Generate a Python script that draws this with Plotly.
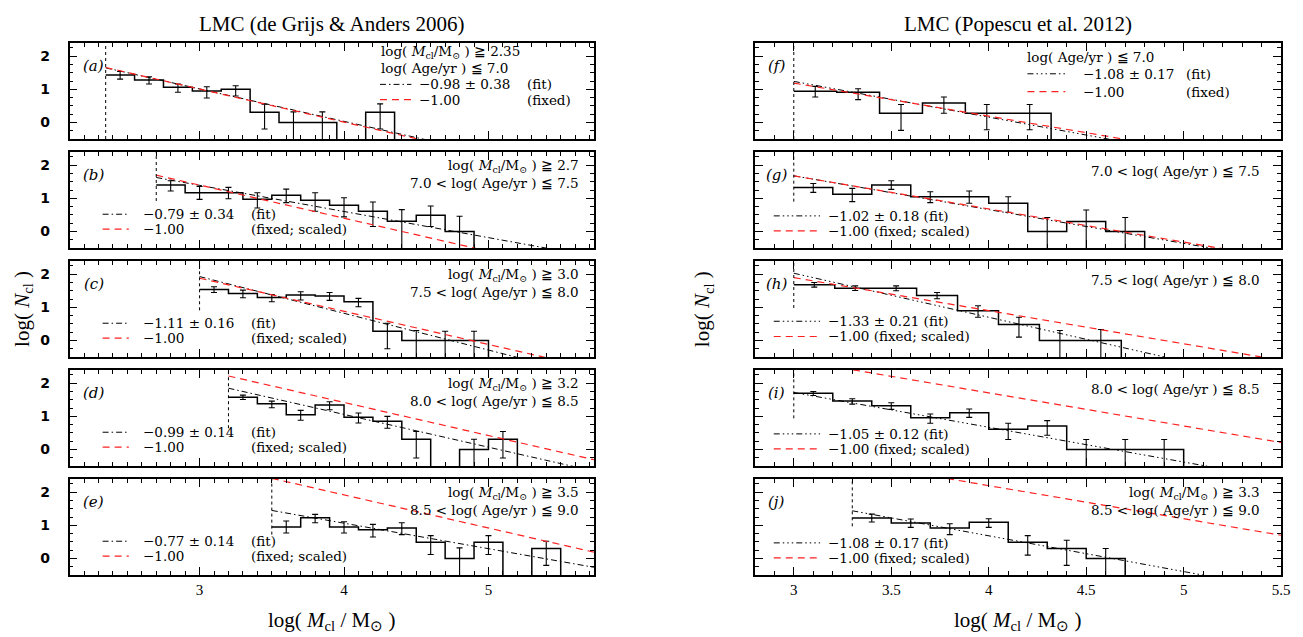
import plotly.graph_objects as go

W, H = 1303, 637

# ---------------- data ----------------
panel_labels = ['(a)', '(b)', '(c)', '(d)', '(e)', '(f)', '(g)', '(h)', '(i)', '(j)']
mass_min = [2.35, 2.7, 3.0, 3.2, 3.5, 3.0, 3.0, 3.0, 3.0, 3.3]
bin_width = [0.2, 0.2, 0.2, 0.2, 0.2, 0.22, 0.2, 0.21, 0.2, 0.2]

# log N per bin (None = empty bin), upper and lower error-bar ends (None = off chart)
logN_a = [1.43, 1.28, 1.06, 0.95, 1.00, 0.31, 0.0, 0.0, None, 0.31]
up_a = [1.54, 1.38, 1.16, 1.08, 1.11, 0.55, 0.32, 0.32, None, 0.56]
lo_a = [1.31, 1.16, 0.91, 0.74, 0.80, -0.20, None, None, None, -0.20]

logN_b = [1.40, 1.17, 1.17, 0.97, 1.09, 0.94, 0.79, 0.61, 0.31, 0.49, 0.0]
up_b = [1.53, 1.36, 1.33, 1.17, 1.28, 1.17, 1.02, 0.89, 0.66, 0.77, 0.46]
lo_b = [1.22, 0.97, 0.99, 0.71, 0.87, 0.61, 0.44, 0.15, None, 0.15, None]

logN_c = [1.54, 1.42, 1.30, 1.37, 1.34, 1.17, 0.28, 0.0, 0.0, 0.0]
up_c = [1.62, 1.52, 1.39, 1.47, 1.45, 1.27, 0.52, 0.30, 0.28, 0.28]
lo_c = [1.45, 1.29, 1.17, 1.22, 1.21, 1.02, -0.25, None, None, None]

logN_d = [1.58, 1.38, 1.05, 1.34, 0.97, 0.85, 0.31, None, 0.0, 0.31]
up_d = [1.64, 1.46, 1.18, 1.44, 1.10, 1.00, 0.54, None, 0.31, 0.54]
lo_d = [1.51, 1.26, 0.88, 1.20, 0.80, 0.64, -0.26, None, None, -0.26]

logN_e = [0.95, 1.23, 0.95, 0.87, 0.92, 0.49, 0.0, 0.49, None, 0.30]
up_e = [1.13, 1.33, 1.11, 1.03, 1.08, 0.69, 0.32, 0.69, None, 0.52]
lo_e = [0.77, 1.08, 0.77, 0.65, 0.72, 0.12, None, 0.12, None, -0.21]

logN_f = [0.94, 0.91, 0.28, 0.59, 0.28, 0.28]
up_f = [1.09, 1.02, 0.54, 0.77, 0.54, 0.54]
lo_f = [0.77, 0.69, -0.24, 0.28, -0.22, -0.22]

logN_g = [1.33, 1.12, 1.40, 1.05, 1.05, 0.85, 0.0, 0.30, 0.0]
up_g = [1.45, 1.30, 1.53, 1.20, 1.22, 1.05, 0.42, 0.65, 0.42]
lo_g = [1.18, 0.90, 1.27, 0.87, 0.85, 0.58, None, None, None]

logN_h = [1.68, 1.58, 1.58, 1.36, 0.90, 0.48, 0.0, 0.0]
up_h = [1.75, 1.65, 1.65, 1.45, 1.05, 0.70, 0.30, 0.33]
lo_h = [1.61, 1.51, 1.50, 1.26, 0.70, 0.10, None, None]

logN_i = [1.70, 1.46, 1.32, 0.96, 1.11, 0.61, 0.71, 0.0, 0.0, 0.0]
up_i = [1.75, 1.53, 1.41, 1.07, 1.22, 0.79, 0.87, 0.30, 0.30, 0.30]
lo_i = [1.63, 1.37, 1.21, 0.79, 0.97, 0.30, 0.43, None, None, None]

logN_j = [1.22, 1.07, 0.92, 1.09, 0.49, 0.30, 0.0]
up_j = [1.34, 1.19, 1.05, 1.20, 0.69, 0.55, 0.30]
lo_j = [1.10, 0.94, 0.72, 0.94, 0.10, -0.21, None]

# fitted and fixed power-law lines: value of log N at the lower mass limit, slope
fit_slope = [-0.98, -0.79, -1.11, -0.99, -0.77, -1.08, -1.02, -1.33, -1.05, -1.08]
fit_err = [0.38, 0.34, 0.16, 0.14, 0.14, 0.17, 0.18, 0.21, 0.12, 0.17]
fit_start = [1.65, 1.63, 1.93, 1.85, 1.45, 1.24, 1.68, 2.03, 1.72, 1.44]
fixed_slope = [-1.00] * 10
fixed_start = [1.66, 1.70, 1.88, 2.22, 2.42, 1.19, 1.68, 1.90, 2.71, 2.90]

# lower end of the dotted mass-limit marker
dotted_low = [-0.5, 0.92, 0.91, 0.64, 0.72, -0.5, 0.90, 0.98, 0.94, 0.97]

MS = 'log( <i>M</i><sub>cl</sub>/M<sub>⊙</sub> ) ≧ '
cond_lines = [
    [MS + '2.35', 'log( Age/yr ) ≦ 7.0'],
    [MS + '2.7', '7.0 < log( Age/yr ) ≦ 7.5'],
    [MS + '3.0', '7.5 < log( Age/yr ) ≦ 8.0'],
    [MS + '3.2', '8.0 < log( Age/yr ) ≦ 8.5'],
    [MS + '3.5', '8.5 < log( Age/yr ) ≦ 9.0'],
    ['log( Age/yr ) ≦ 7.0'],
    ['7.0 < log( Age/yr ) ≦ 7.5'],
    ['7.5 < log( Age/yr ) ≦ 8.0'],
    ['8.0 < log( Age/yr ) ≦ 8.5'],
    [MS + '3.3', '8.5 < log( Age/yr ) ≦ 9.0'],
]
column_titles = ['LMC (de Grijs &amp; Anders 2006)', 'LMC (Popescu et al. 2012)']
x_ranges = [[2.1, 5.73], [2.8, 5.5]]
x_major = [1.0, 0.5]
y_range = [-0.5, 2.4]

all_logN = [logN_a, logN_b, logN_c, logN_d, logN_e, logN_f, logN_g, logN_h, logN_i, logN_j]
all_up = [up_a, up_b, up_c, up_d, up_e, up_f, up_g, up_h, up_i, up_j]
all_lo = [lo_a, lo_b, lo_c, lo_d, lo_e, lo_f, lo_g, lo_h, lo_i, lo_j]

# ---------------- layout geometry (pixels) ----------------
col_px = [(62.0, 590.0), (752.0, 1282.0)]
top0, pitch, ph = 35, 109, 96

TXT = dict(family='DejaVu Serif', size=13.5, color='black')
RED = '#ff2020'
FIT_DASH = ['6px,3px,1.5px,3px', '6px,3px,1.5px,3px,1.5px,3px,1.5px,3px']
RED_DASH = '7px,5px'

fig = go.Figure()
layout = dict(width=W, height=H, margin=dict(l=0, r=0, t=0, b=0), autosize=False,
              paper_bgcolor='white', plot_bgcolor='white', showlegend=False)
annotations = []
shapes = []


def ann(text, xref, yref, x, y, xanchor='left', font=TXT, **kw):
    d = dict(text=text, xref=xref, yref=yref, x=x, y=y, xanchor=xanchor, yanchor='middle',
             showarrow=False, font=font, borderpad=0)
    d.update(kw)
    annotations.append(d)


for k in range(10):
    col = 0 if k < 5 else 1
    row = k % 5
    n = k + 1
    xa = 'xaxis' if n == 1 else f'xaxis{n}'
    ya = 'yaxis' if n == 1 else f'yaxis{n}'
    xr = 'x' if n == 1 else f'x{n}'
    yr = 'y' if n == 1 else f'y{n}'
    xd = f'{xr} domain'
    top = top0 + row * pitch
    bot = top + ph
    layout[xa] = dict(
        domain=[col_px[col][0] / W, col_px[col][1] / W], range=x_ranges[col], anchor=yr,
        showline=True, mirror='allticks', linecolor='black', linewidth=1.7,
        ticks='inside', ticklen=8, tickwidth=1, tickcolor='black',
        tick0=0, dtick=x_major[col], showgrid=False, zeroline=False,
        minor=dict(ticks='inside', ticklen=4, tickwidth=1, tickcolor='black', dtick=0.1, tick0=0,
                   showgrid=False),
        showticklabels=(row == 4),
        tickfont=dict(family='Liberation Serif', size=15, color='black'),
        ticklabelstandoff=0)
    layout[ya] = dict(
        domain=[1 - bot / H, 1 - top / H], range=y_range, anchor=xr,
        showline=True, mirror='allticks', linecolor='black', linewidth=1.7,
        ticks='inside', ticklen=8, tickwidth=1, tickcolor='black',
        tick0=0, dtick=1, showgrid=False, zeroline=False,
        minor=dict(ticks='inside', ticklen=4, tickwidth=1, tickcolor='black', dtick=0.25, tick0=0,
                   showgrid=False),
        showticklabels=(col == 0),
        tickfont=dict(family='DejaVu Sans', size=14, color='black', weight='bold'),
        ticklabelstandoff=15)

    vals = all_logN[k]
    nb = len(vals)
    w = bin_width[k]
    x0 = mass_min[k]
    edges = [x0 + i * w for i in range(nb + 1)]
    below = y_range[0] - 2.0
    ystep = [v if v is not None else below for v in vals] + [below]

    # histogram
    fig.add_trace(go.Scatter(x=edges, y=ystep, mode='lines', line=dict(shape='hv', color='black', width=1.5),
                             xaxis=xr, yaxis=yr, hoverinfo='skip'))
    # error bars
    cx, cy, ep, em = [], [], [], []
    for i, v in enumerate(vals):
        if v is None:
            continue
        cx.append(edges[i] + w / 2)
        cy.append(v)
        ep.append(all_up[k][i] - v)
        lo = all_lo[k][i]
        em.append(v - (lo if lo is not None else below))
    fig.add_trace(go.Scatter(x=cx, y=cy, mode='markers', marker=dict(size=1, color='black'),
                             error_y=dict(type='data', symmetric=False, array=ep, arrayminus=em,
                                          color='black', thickness=1.1, width=3),
                             xaxis=xr, yaxis=yr, hoverinfo='skip'))
    # fit and fixed lines
    xe = x_ranges[col][1]
    fig.add_trace(go.Scatter(x=[x0, xe], y=[fit_start[k], fit_start[k] + fit_slope[k] * (xe - x0)],
                             mode='lines', line=dict(color='black', width=1, dash=FIT_DASH[col]),
                             xaxis=xr, yaxis=yr, hoverinfo='skip'))
    fig.add_trace(go.Scatter(x=[x0, xe], y=[fixed_start[k], fixed_start[k] + fixed_slope[k] * (xe - x0)],
                             mode='lines', line=dict(color=RED, width=1.2, dash=RED_DASH),
                             xaxis=xr, yaxis=yr, hoverinfo='skip'))
    # dotted lower mass limit
    shapes.append(dict(type='line', xref=xr, yref=yr, x0=x0, x1=x0, y0=dotted_low[k], y1=y_range[1],
                       line=dict(color='black', width=1, dash='dot')))

    # panel label
    ann('<i>' + panel_labels[k] + '</i>', xd, yr, 0.046 if col == 0 else 0.042, 1.72, xanchor='center',
        font=dict(family='DejaVu Serif', size=15, color='black'))

    fit_txt = f'−{abs(fit_slope[k]):.2f} ± {fit_err[k]:.2f}'
    fix_txt = f'−{abs(fixed_slope[k]):.2f}'

    if k == 0 or k == 5:
        # legend at top right, texts left-aligned
        if k == 0:
            tx, ty = 0.592, [2.12, 1.63]
            sx0, sx1, vy, vx, px = 0.592, 0.652, [1.15, 0.69], 0.665, 0.870
        else:
            tx, ty = 0.515, [1.97]
            sx0, sx1, vy, vx, px = 0.518, 0.590, [1.47, 0.93], 0.622, 0.818
        for line, yy in zip(cond_lines[k], ty):
            ann(line, xd, yr, tx, yy)
        shapes.append(dict(type='line', xref=xd, yref=yr, x0=sx0, x1=sx1, y0=vy[0], y1=vy[0],
                           line=dict(color='black', width=1, dash=FIT_DASH[col])))
        shapes.append(dict(type='line', xref=xd, yref=yr, x0=sx0, x1=sx1, y0=vy[1], y1=vy[1],
                           line=dict(color=RED, width=1.2, dash=RED_DASH)))
        ann(fit_txt, xd, yr, vx, vy[0])
        ann('(fit)', xd, yr, px, vy[0])
        ann(fix_txt, xd, yr, vx, vy[1])
        ann('(fixed)', xd, yr, px, vy[1])
    else:
        # condition text top right, right-aligned
        rx = 0.973 if col == 0 else 0.961
        ty = [1.97, 1.45] if len(cond_lines[k]) == 2 else [1.83]
        for line, yy in zip(cond_lines[k], ty):
            ann(line, xd, yr, rx, yy, xanchor='right')
        # legend bottom left
        if col == 0:
            sx0, sx1, vy = 0.063, 0.113, [0.52, 0.07]
        else:
            sx0, sx1 = 0.036, 0.124
            vy = [0.58, 0.12] if k == 7 else [0.47, 0.02]
        shapes.append(dict(type='line', xref=xd, yref=yr, x0=sx0, x1=sx1, y0=vy[0], y1=vy[0],
                           line=dict(color='black', width=1, dash=FIT_DASH[col])))
        shapes.append(dict(type='line', xref=xd, yref=yr, x0=sx0, x1=sx1, y0=vy[1], y1=vy[1],
                           line=dict(color=RED, width=1.2, dash=RED_DASH)))
        if col == 0:
            ann(fit_txt, xd, yr, 0.139, vy[0])
            ann('(fit)', xd, yr, 0.345, vy[0])
            ann(fix_txt, xd, yr, 0.139, vy[1])
            ann('(fixed; scaled)', xd, yr, 0.345, vy[1])
        else:
            ann(fit_txt + ' (fit)', xd, yr, 0.137, vy[0])
            ann(fix_txt + ' (fixed; scaled)', xd, yr, 0.137, vy[1])

# column titles, axis titles
BIG = dict(family='Liberation Serif', size=21, color='black')
for col in range(2):
    cxp = (col_px[col][0] + col_px[col][1]) / 2 / W
    ann(column_titles[col], 'paper', 'paper', cxp, 1 - 16 / H, xanchor='center', font=BIG)
    ann('log( <i>M</i><sub>cl</sub> / M<sub>⊙</sub> )', 'paper', 'paper', cxp, 1 - 613 / H,
        xanchor='center', font=BIG)
ymid = 1 - (top0 + (4 * pitch + ph) / 2) / H
for xp in [15, 700]:
    ann('log( <i>N</i><sub>cl</sub> )', 'paper', 'paper', xp / W, ymid, xanchor='center', font=BIG,
        textangle=-90)

layout['annotations'] = annotations
layout['shapes'] = shapes
fig.update_layout(**layout)
fig.write_html('out.html')
